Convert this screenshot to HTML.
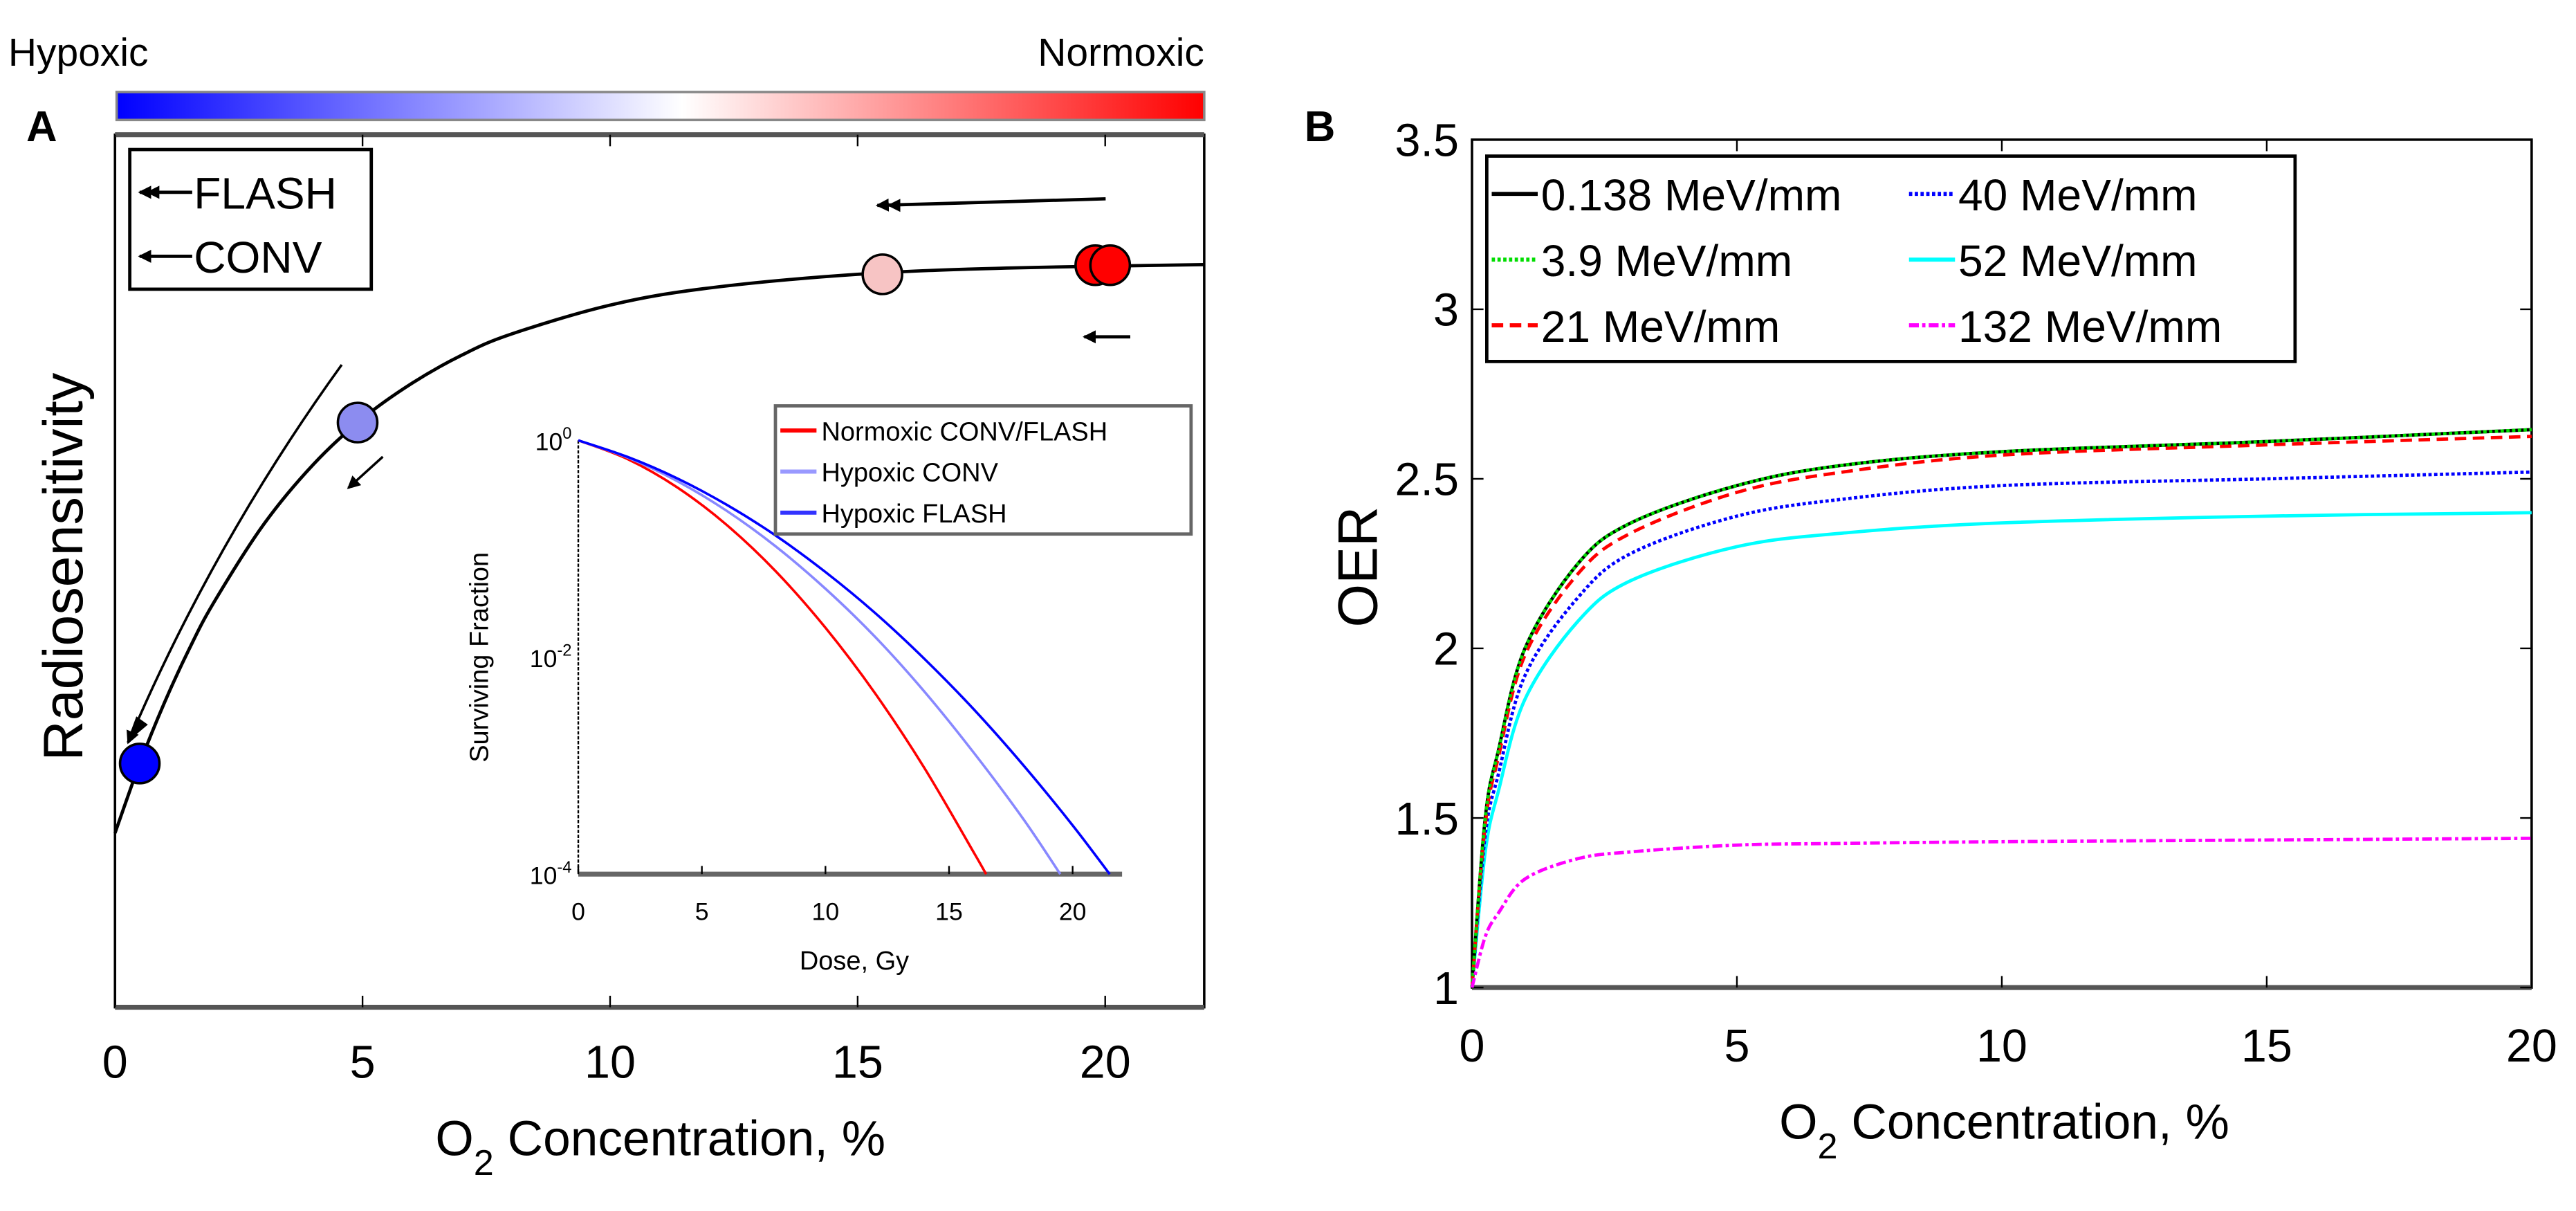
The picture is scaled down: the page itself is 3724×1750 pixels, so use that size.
<!DOCTYPE html>
<html><head><meta charset="utf-8"><style>
html,body{margin:0;padding:0;background:#fff;}
svg{display:block;font-family:"Liberation Sans",Arial,sans-serif;}
</style></head><body>
<svg id="fig" width="3724" height="1750" viewBox="0 0 1568 737" preserveAspectRatio="none" xmlns="http://www.w3.org/2000/svg">
<defs>
<linearGradient id="cbar" x1="0" x2="1" y1="0" y2="0">
<stop offset="0" stop-color="#0000ff"/><stop offset="0.52" stop-color="#ffffff"/><stop offset="1" stop-color="#ff0000"/>
</linearGradient>
<marker id="ah" markerWidth="8" markerHeight="8" refX="7" refY="4" orient="auto" markerUnits="userSpaceOnUse"><path d="M0,0 L8,4 L0,8 z" fill="#000"/></marker>
</defs>
<text x="5" y="40" font-size="24">Hypoxic</text>
<text x="733" y="40" font-size="24" text-anchor="end">Normoxic</text>
<rect x="71" y="56" width="662" height="17" fill="url(#cbar)" stroke="#888" stroke-width="1.5"/>
<text x="16" y="86" font-size="26" font-weight="bold">A</text>
<text x="794" y="86" font-size="26" font-weight="bold">B</text>
<g id="pa"></g>
<g id="inset"></g>
<g id="pb"></g>
</svg>
<script>
// Panel A data
const aTicks=[0,5,10,15,20];
const aCurveX=[0,0.5,1,1.5,2,3,4,5,6,7,8,10,12,15,18,22];
const aCurveY=[0,0.122,0.229,0.323,0.405,0.541,0.646,0.727,0.789,0.838,0.875,0.926,0.956,0.980,0.991,0.997];
const aPointX=[0.5,4.9,15.5,19.8,20.1];
const aPointY=[0.122,0.72,0.98,0.996,0.996];
const aPointColor=["#0000ff","#8c8cf0","#f7c4c4","#ff0000","#ff0000"];
// Inset data
const insetTicksX=[0,5,10,15,20];
const redDose=[0,2,4,6,8,10,12,14,16,16.5];
const redLogS=[0,-0.173,-0.433,-0.779,-1.21,-1.728,-2.33,-3.02,-3.80,-4];
const lightDose=[0,2,4,6,8,10,12,14,16,18,19.5];
const lightLogS=[0,-0.159,-0.375,-0.649,-0.98,-1.368,-1.81,-2.316,-2.88,-3.49,-4];
const blueDose=[0,2,4,6,8,10,12,14,16,18,20,21.5];
const blueLogS=[0,-0.153,-0.35,-0.593,-0.88,-1.214,-1.59,-2.014,-2.48,-2.994,-3.55,-4];
// Panel B data
const bX=[0,0.25,0.5,1,2,3,5,7,10,15,20];
const bBlack=[1.0,1.5,1.7,2.0,2.25,2.37,2.48,2.54,2.58,2.61,2.645];
const bGreen=[1.0,1.5,1.7,2.0,2.25,2.37,2.48,2.54,2.58,2.61,2.645];
const bRed=[1.0,1.48,1.68,1.98,2.22,2.34,2.46,2.52,2.57,2.60,2.625];
const bBlue=[1.0,1.45,1.63,1.92,2.15,2.28,2.39,2.44,2.48,2.50,2.52];
const bCyan=[1.0,1.4,1.58,1.85,2.08,2.2,2.3,2.34,2.37,2.39,2.40];
const bMagenta=[1.0,1.15,1.22,1.32,1.38,1.40,1.42,1.425,1.43,1.435,1.44];
const bTicksX=[0,5,10,15,20];
const bTicksY=[1,1.5,2,2.5,3,3.5];

const NS="http://www.w3.org/2000/svg";
function mk(p,tag,at,txt){const e=document.createElementNS(NS,tag);for(const k in at)e.setAttribute(k,at[k]);if(txt!==undefined)e.textContent=txt;p.appendChild(e);return e;}
function smooth(P){
 let d='M'+P[0][0]+','+P[0][1];
 for(let i=0;i<P.length-1;i++){
  const p0=P[i-1]||P[i],p1=P[i],p2=P[i+1],p3=P[i+2]||P[i+1];
  const c1=[p1[0]+(p2[0]-p0[0])/6,p1[1]+(p2[1]-p0[1])/6];
  const c2=[p2[0]-(p3[0]-p1[0])/6,p2[1]-(p3[1]-p1[1])/6];
  d+=' C'+c1[0]+','+c1[1]+' '+c2[0]+','+c2[1]+' '+p2[0]+','+p2[1];
 }
 return d;
}

// ---------- Panel A ----------
const pa=document.getElementById('pa');
const AL=70,AR=733,AT=82,AB=613;
const ax=v=>AL+v*(AR-AL)/22;
const ay=v=>507-v*347;
let e;
e=mk(pa,'rect',{x:AL,y:AT,width:AR-AL,height:AB-AT,fill:'none',stroke:'#000','stroke-width':1.5});


mk(pa,'line',{x1:AL,x2:AR,y1:AT,y2:AT,stroke:'#555','stroke-width':3});
mk(pa,'line',{x1:AL,x2:AR,y1:AB,y2:AB,stroke:'#555','stroke-width':3});
aTicks.forEach(t=>{
 mk(pa,'line',{x1:ax(t),x2:ax(t),y1:AB,y2:AB-7,stroke:'#000','stroke-width':1});
 mk(pa,'line',{x1:ax(t),x2:ax(t),y1:AT,y2:AT+7,stroke:'#000','stroke-width':1});
 e=mk(pa,'text',{x:ax(t),y:656,'font-size':28,'text-anchor':'middle'},String(t));
 
 
});
e=mk(pa,'text',{x:402,y:703,'font-size':30,'text-anchor':'middle'});


e.innerHTML='O<tspan dy="12" font-size="22">2</tspan><tspan dy="-12"> Concentration, %</tspan>';
e=mk(pa,'text',{x:0,y:0,'font-size':34,'text-anchor':'middle',transform:'translate(50,345) rotate(-90)'},'Radiosensitivity');


e=mk(pa,'path',{d:smooth(aCurveX.map((x,i)=>[ax(x),ay(aCurveY[i])])),fill:'none',stroke:'#000','stroke-width':2});


e=mk(pa,'path',{d:'M208,222 Q130,330 78,452',fill:'none',stroke:'#000','stroke-width':1.5,'marker-end':'url(#ah)'});


mk(pa,'path',{d:'M83,436 L77,452 L90,441 z',fill:'#000'});
e=mk(pa,'line',{x1:233,y1:278,x2:212,y2:297,stroke:'#000','stroke-width':1.5,'marker-end':'url(#ah)'});


e=mk(pa,'line',{x1:673,y1:121,x2:534,y2:125,stroke:'#000','stroke-width':2,'marker-end':'url(#ah)'});


mk(pa,'path',{d:'M548,121 L540,125 L548,129 z',fill:'#000'});
e=mk(pa,'line',{x1:688,y1:205,x2:660,y2:205,stroke:'#000','stroke-width':2,'marker-end':'url(#ah)'});


aPointX.forEach((x,i)=>{
 const c=mk(pa,'circle',{cx:ax(x),cy:ay(aPointY[i]),r:12,fill:aPointColor[i],stroke:'#000','stroke-width':1.5});
 
 
});
const lg=mk(pa,'g',{});


mk(lg,'rect',{x:79,y:91,width:147,height:85,fill:'#fff',stroke:'#000','stroke-width':2});
mk(lg,'line',{x1:117,y1:117,x2:85,y2:117,stroke:'#000','stroke-width':2,'marker-end':'url(#ah)'});
mk(lg,'path',{d:'M97,113 L89,117 L97,121 z',fill:'#000'});
mk(lg,'text',{x:118,y:127,'font-size':27},'FLASH');
mk(lg,'line',{x1:117,y1:156,x2:85,y2:156,stroke:'#000','stroke-width':2,'marker-end':'url(#ah)'});
mk(lg,'text',{x:118,y:166,'font-size':27},'CONV');

// ---------- Inset ----------
const ins=document.getElementById('inset');
const IL=352,IR=683,IT=268,IB=532;
const ix=v=>IL+v*(IR-IL)/22;
const iy=v=>IT+(-v)*(IB-IT)/4;
mk(ins,'line',{x1:IL,x2:IL,y1:IT,y2:IB,stroke:'#000','stroke-width':1,'stroke-dasharray':'2,1'});
mk(ins,'line',{x1:IL,x2:IR,y1:IB,y2:IB,stroke:'#666','stroke-width':3});
insetTicksX.forEach(t=>{
 mk(ins,'line',{x1:ix(t),x2:ix(t),y1:IB,y2:IB-5,stroke:'#000','stroke-width':1});
 e=mk(ins,'text',{x:ix(t),y:560,'font-size':15,'text-anchor':'middle'},String(t));
 
 
});
[[0,'0'],[-2,'-2'],[-4,'-4']].forEach(([v,s])=>{
 e=mk(ins,'text',{x:IL-4,y:iy(v)+6,'font-size':15,'text-anchor':'end'});
 e.innerHTML='10<tspan dy="-7" font-size="10">'+s+'</tspan>';
 
 
});
e=mk(ins,'text',{x:520,y:590,'font-size':16,'text-anchor':'middle'},'Dose, Gy');


e=mk(ins,'text',{x:0,y:0,'font-size':16,'text-anchor':'middle',transform:'translate(297,400) rotate(-90)'},'Surviving Fraction');


function iline(xs,vals,col,name){
 const p=mk(ins,'path',{d:smooth(xs.map((x,i)=>[ix(x),iy(vals[i])])),fill:'none',stroke:col,'stroke-width':1.5});
 
 
}
iline(redDose,redLogS,'#ff0000','normoxic-line');
iline(lightDose,lightLogS,'#8888ff','hypoxic-conv-line');
iline(blueDose,blueLogS,'#0000ff','hypoxic-flash-line');
const ilg=mk(ins,'g',{});


mk(ilg,'rect',{x:472,y:247,width:253,height:78,fill:'#fff',stroke:'#666','stroke-width':2});
[['#ff0000','Normoxic CONV/FLASH',262],['#9999ff','Hypoxic CONV',287],['#3333ff','Hypoxic FLASH',312]].forEach(([c,t,y])=>{
 mk(ilg,'line',{x1:475,x2:497,y1:y,y2:y,stroke:c,'stroke-width':2.5});
 mk(ilg,'text',{x:500,y:y+6,'font-size':16},t);
});

// ---------- Panel B ----------
const pb=document.getElementById('pb');
const BL=896,BR=1541,BT=85,BB=601;
const bx=v=>BL+v*(BR-BL)/20;
const by=v=>BB-(v-1)*(BB-BT)/2.5;
e=mk(pb,'rect',{x:BL,y:BT,width:BR-BL,height:BB-BT,fill:'none',stroke:'#000','stroke-width':1.5});


mk(pb,'line',{x1:BL,x2:BR,y1:BB,y2:BB,stroke:'#555','stroke-width':3});
bTicksX.forEach(t=>{
 mk(pb,'line',{x1:bx(t),x2:bx(t),y1:BB,y2:BB-7,stroke:'#000','stroke-width':1});
 mk(pb,'line',{x1:bx(t),x2:bx(t),y1:BT,y2:BT+7,stroke:'#000','stroke-width':1});
 e=mk(pb,'text',{x:bx(t),y:646,'font-size':28,'text-anchor':'middle'},String(t));
 
 
});
bTicksY.forEach(t=>{
 mk(pb,'line',{x1:BL,x2:BL+7,y1:by(t),y2:by(t),stroke:'#000','stroke-width':1});
 mk(pb,'line',{x1:BR,x2:BR-7,y1:by(t),y2:by(t),stroke:'#000','stroke-width':1});
 e=mk(pb,'text',{x:BL-8,y:by(t)+10,'font-size':28,'text-anchor':'end'},String(t));
 
 
});
e=mk(pb,'text',{x:1220,y:693,'font-size':30,'text-anchor':'middle'});


e.innerHTML='O<tspan dy="12" font-size="22">2</tspan><tspan dy="-12"> Concentration, %</tspan>';
e=mk(pb,'text',{x:0,y:0,'font-size':34,'text-anchor':'middle',transform:'translate(838,345) rotate(-90)'},'OER');


function bline(vals,col,dash,name){
 const p=mk(pb,'path',{d:smooth(vals.map((v,i)=>[bx(bX[i]),by(v)])),fill:'none',stroke:col,'stroke-width':2,'stroke-dasharray':dash});
 
 
}
bline(bCyan,'#00ffff','none','line-52-mev');
bline(bBlue,'#0000ff','2,1.5','line-40-mev');
bline(bBlack,'#000','none','line-0138-mev');
bline(bRed,'#ff0000','7,4','line-21-mev');
bline(bGreen,'#00dd00','2,1.5','line-39-mev');
bline(bMagenta,'#ff00ff','6,2,2,2','line-132-mev');
const blg=mk(pb,'g',{});


mk(blg,'rect',{x:905,y:95,width:492,height:125,fill:'#fff',stroke:'#000','stroke-width':2});
[['#000','none','0.138 MeV/mm',0,118],['#00dd00','2,1.5','3.9 MeV/mm',0,158],['#ff0000','7,4','21 MeV/mm',0,198],
 ['#0000ff','2,1.5','40 MeV/mm',1,118],['#00ffff','none','52 MeV/mm',1,158],['#ff00ff','6,2,2,2','132 MeV/mm',1,198]].forEach(([c,d,t,col,y])=>{
 const x0=col?1162:908;
 mk(blg,'line',{x1:x0,x2:x0+28,y1:y,y2:y,stroke:c,'stroke-width':2.5,'stroke-dasharray':d});
 mk(blg,'text',{x:x0+30,y:y+10,'font-size':27},t);
});
</script>
</body></html>
